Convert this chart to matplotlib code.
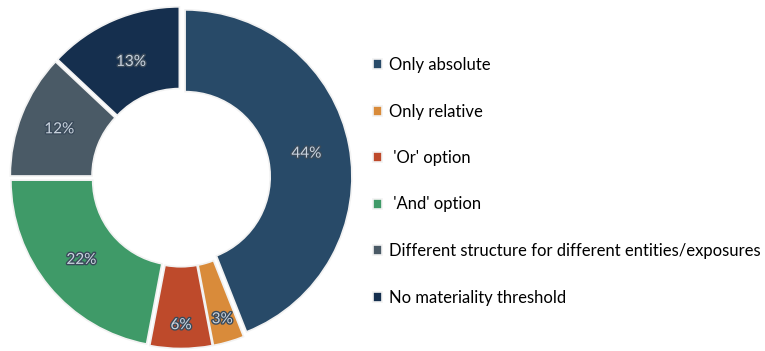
import numpy as np
import matplotlib.pyplot as plt
import matplotlib.patheffects as pe

categories = ["Only absolute", "Only relative", " 'Or' option", " 'And' option",
              "Different structure for different entities/exposures", "No materiality threshold"]
shares = [44, 3, 6, 22, 12, 13]
colors = ["#284A68", "#D98B3A", "#BE4A2B", "#3F9A68", "#4A5A66", "#152F4E"]
label_dist = [0.74, 0.86, 0.86, 0.75, 0.76, 0.73]

plt.rcParams["font.family"] = ["Lato", "DejaVu Sans"]

fig = plt.figure(figsize=(7.65, 3.51), dpi=100)
ax = fig.add_axes([(181 - 175.5) / 765, -2 / 351, 351 / 765, 1])

explode = 0.025
wedges, _ = ax.pie(shares, colors=colors, startangle=90, counterclock=False,
                   radius=1, explode=[explode] * len(shares),
                   wedgeprops=dict(width=0.49, edgecolor="#f2f2f2", linewidth=1.2))
lim = (175.5 / 171) * (1 + explode)
ax.set_xlim(-lim, lim)
ax.set_ylim(-lim, lim)
ax.set_aspect("equal")
ax.axis("off")

for w, val, d in zip(wedges, shares, label_dist):
    ang = np.deg2rad((w.theta1 + w.theta2) / 2)
    cx, cy = w.center
    ax.text(cx + d * np.cos(ang), cy + d * np.sin(ang), f"{val}%",
            ha="center", va="center", fontsize=11, color="#c9d3de",
            path_effects=[pe.withStroke(linewidth=2, foreground="#3a4a5a")])

fig.legend(wedges, categories, loc="upper left", bbox_to_anchor=(373 / 765, 1 - 57 / 351),
           frameon=False, fontsize=12, handlelength=0.55, handleheight=0.55,
           handletextpad=0.4, labelspacing=1.83, borderaxespad=0, borderpad=0)

fig.savefig("out.png", dpi=100)
